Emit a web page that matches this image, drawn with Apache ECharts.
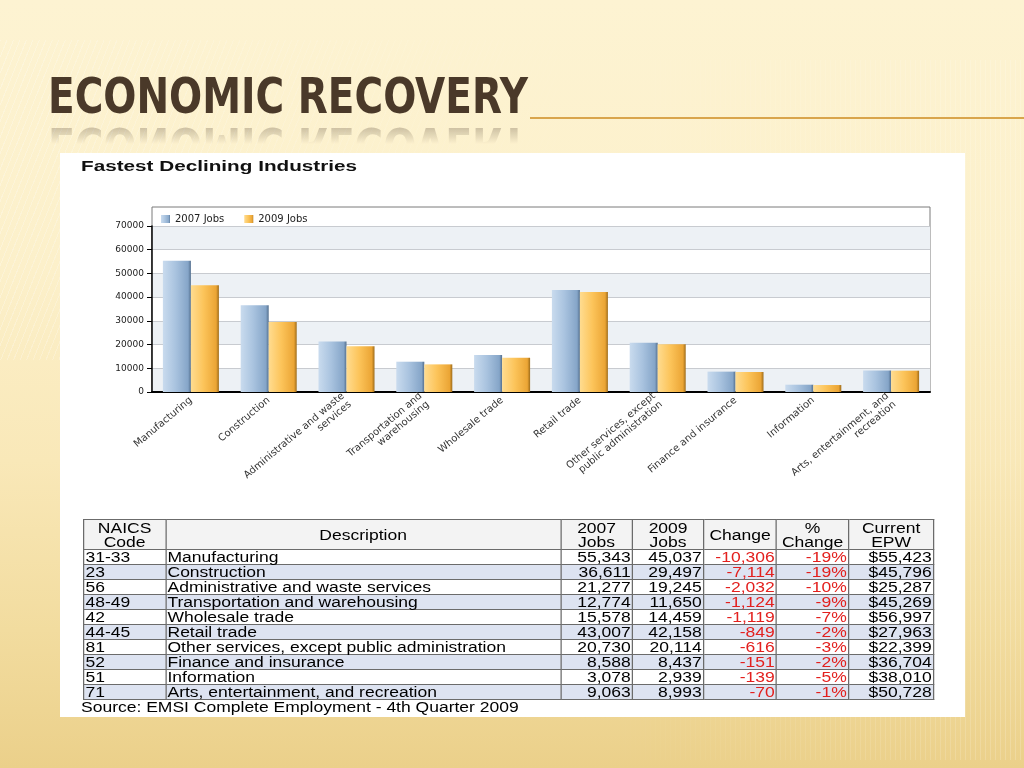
<!DOCTYPE html>
<html>
<head>
<meta charset="utf-8">
<script src="https://cdn.jsdelivr.net/npm/echarts@6/dist/echarts.min.js"></script>
<style>
  html, body { margin: 0; padding: 0; }
  body {
    width: 1024px; height: 768px; overflow: hidden; position: relative;
    background: linear-gradient(to bottom, #fdf3d2 0%, #fcf0ca 35%, #f9e8b8 60%, #f2dc9f 82%, #ebd08a 100%);
    font-family: "Liberation Sans", Arial, sans-serif;
  }
  #stripes {
    position: absolute; left: 0; top: 40px; width: 1024px; height: 320px;
    background: repeating-linear-gradient(112deg, rgba(255,255,255,0.25) 0px, rgba(255,255,255,0.25) 1px, transparent 1px, transparent 6px);
    -webkit-mask-image: linear-gradient(to right, rgba(0,0,0,1) 0%, rgba(0,0,0,0.3) 40%, rgba(0,0,0,0) 60%);
  }
  #stripesR {
    position: absolute; left: 600px; top: 60px; width: 424px; height: 700px;
    background: repeating-linear-gradient(90deg, rgba(255,255,255,0.18) 0px, rgba(255,255,255,0.18) 1px, transparent 1px, transparent 5px);
    -webkit-mask-image: linear-gradient(to right, rgba(0,0,0,0) 0%, rgba(0,0,0,1) 100%);
  }
  #slideTitle {
    position: absolute; left: 48px; top: 69px;
    font-family: "Liberation Sans Narrow", "DejaVu Sans Condensed", "Liberation Sans", sans-serif;
    font-weight: bold; font-size: 49px; line-height: 56px; color: #4a3929;
    transform-origin: left top; transform: scaleX(0.885);
    white-space: nowrap;
    -webkit-box-reflect: below -9px linear-gradient(to bottom, transparent 50%, rgba(255,255,255,0.45) 100%);
  }
  #titleRule {
    position: absolute; left: 530px; top: 117px; width: 494px; height: 2px; background: #d9a54c;
  }
  #panel {
    position: absolute; left: 60px; top: 153px; width: 905px; height: 564px; background: #ffffff;
  }
  #chartTitle {
    position: absolute; left: 81px; top: 157px;
    font-family: "Liberation Sans", Arial, sans-serif; font-weight: bold; font-size: 15px; color: #111;
    transform-origin: left top; transform: scaleX(1.38); white-space: nowrap;
  }
  #chart { position: absolute; left: 60px; top: 153px; width: 905px; height: 360px; }
  #tableWrap {
    position: absolute; left: 83px; top: 519px;
    transform-origin: left top; transform: scaleX(1.25);
  }
  table { border-collapse: collapse; font-family: "Liberation Sans", Arial, sans-serif; font-size: 14px; color: #000; }
  td, th { padding: 0 1px; border: 1px solid #6b6b6b; line-height: 14px; height: 14px; white-space: nowrap; }
  th { font-weight: normal; background: #f3f3f3; height: 29px; text-align: center; }
  td.num { text-align: right; }
  td.red { text-align: right; color: #e3201e; }
  tr.alt td { background: #dde3f1; }
  #source {
    position: absolute; left: 81px; top: 699px; font-family: "Liberation Sans", Arial, sans-serif; font-size: 14px; color: #000;
    transform-origin: left top; transform: scaleX(1.25); white-space: nowrap;
  }
</style>
</head>
<body>
<div id="stripes"></div>
<div id="stripesR"></div>
<div id="slideTitle">ECONOMIC RECOVERY</div>
<div id="titleRule"></div>
<div id="panel"></div>
<div id="chartTitle">Fastest Declining Industries</div>
<div id="chart"></div>
<div id="tableWrap"></div>
<div id="source">Source: EMSI Complete Employment - 4th Quarter 2009</div>
<script>
// ---- data ----
const categoryLabels = [
  'Manufacturing', 'Construction', 'Administrative and waste\nservices',
  'Transportation and\nwarehousing', 'Wholesale trade', 'Retail trade',
  'Other services, except\npublic administration', 'Finance and insurance',
  'Information', 'Arts, entertainment, and\nrecreation'
];
const naicsCodes = ['31-33', '23', '56', '48-49', '42', '44-45', '81', '52', '51', '71'];
const descriptions = [
  'Manufacturing', 'Construction', 'Administrative and waste services',
  'Transportation and warehousing', 'Wholesale trade', 'Retail trade',
  'Other services, except public administration', 'Finance and insurance',
  'Information', 'Arts, entertainment, and recreation'
];
const jobs2007 = [55343, 36611, 21277, 12774, 15578, 43007, 20730, 8588, 3078, 9063];
const jobs2009 = [45037, 29497, 19245, 11650, 14459, 42158, 20114, 8437, 2939, 8993];
const jobChange = [-10306, -7114, -2032, -1124, -1119, -849, -616, -151, -139, -70];
const pctChange = ['-19%', '-19%', '-10%', '-9%', '-7%', '-2%', '-3%', '-2%', '-5%', '-1%'];
const currentEPW = ['$55,423', '$45,796', '$25,287', '$45,269', '$56,997', '$27,963', '$22,399', '$36,704', '$38,010', '$50,728'];
const yTicks = { min: 0, max: 70000, interval: 10000 };
const seriesNames = ['2007 Jobs', '2009 Jobs'];
const tableHeaders = ['NAICS<br>Code', 'Description', '2007<br>Jobs', '2009<br>Jobs', 'Change', '%<br>Change', 'Current<br>EPW'];
const colWidths = [65.6, 316, 57.6, 56.8, 58.4, 57.6, 68];

// ---- chart ----
const chart = echarts.init(document.getElementById('chart'), null, { renderer: 'canvas' });
const blueGrad = new echarts.graphic.LinearGradient(0, 0, 1, 0, [
  { offset: 0, color: '#c9dbee' }, { offset: 0.45, color: '#a9c3df' },
  { offset: 0.9, color: '#85a5c8' }, { offset: 1, color: '#536f8e' }
]);
const orangeGrad = new echarts.graphic.LinearGradient(0, 0, 1, 0, [
  { offset: 0, color: '#ffdc90' }, { offset: 0.45, color: '#fcc45a' },
  { offset: 0.9, color: '#eba535' }, { offset: 1, color: '#9e6c1a' }
]);
const fnt = '"Liberation Sans", Arial, sans-serif';
chart.setOption({
  animation: false,
  backgroundColor: 'transparent',
  textStyle: { fontFamily: fnt },
  legend: {
    left: 96, top: 56, itemWidth: 9, itemHeight: 8, itemGap: 20, icon: 'rect',
    textStyle: { fontSize: 10, color: '#222', fontFamily: '"DejaVu Sans", sans-serif' },
    data: seriesNames
  },
  grid: { left: 92, right: 35, top: 73, bottom: 121, containLabel: false },
  graphic: [{
    type: 'rect', shape: { x: 92, y: 54, width: 778, height: 185 },
    style: { fill: 'none', stroke: '#7a7a7a', lineWidth: 1 }, z: 0, silent: true
  }],
  xAxis: {
    type: 'category', data: categoryLabels,
    axisLine: { lineStyle: { color: '#000', width: 2 } },
    axisTick: { alignWithLabel: true, length: 5, lineStyle: { color: '#000' } },
    axisLabel: { interval: 0, rotate: 40, fontSize: 10, color: '#333', margin: 7, lineHeight: 11, fontFamily: '"DejaVu Sans", sans-serif' },
    splitLine: { show: false }
  },
  yAxis: {
    type: 'value', min: yTicks.min, max: yTicks.max, interval: yTicks.interval,
    axisLine: { show: true, lineStyle: { color: '#000', width: 1.5 } },
    axisTick: { show: true, length: 5, lineStyle: { color: '#000' } },
    axisLabel: { fontSize: 9, color: '#222', margin: 8, fontFamily: '"DejaVu Sans", sans-serif',
      formatter: v => String(v) },
    splitLine: { lineStyle: { color: '#c8cbd0', width: 1.2 } },
    splitArea: { show: true, areaStyle: { color: ['#edf1f5', '#ffffff'] } }
  },
  series: [
    { name: seriesNames[0], type: 'bar', data: jobs2007, barWidth: 28, barGap: '0%',
      itemStyle: { color: blueGrad } },
    { name: seriesNames[1], type: 'bar', data: jobs2009, barWidth: 28, barGap: '0%',
      itemStyle: { color: orangeGrad } }
  ]
});

// ---- table ----
const fmt = n => n.toLocaleString('en-US');
let html = '<table><colgroup>' + colWidths.map(w => '<col style="width:' + w + 'px">').join('') + '</colgroup>';
html += '<tr>' + tableHeaders.map(h => '<th>' + h + '</th>').join('') + '</tr>';
for (let i = 0; i < naicsCodes.length; i++) {
  html += '<tr' + (i % 2 === 1 ? ' class="alt"' : '') + '>' +
    '<td>' + naicsCodes[i] + '</td>' +
    '<td>' + descriptions[i] + '</td>' +
    '<td class="num">' + fmt(jobs2007[i]) + '</td>' +
    '<td class="num">' + fmt(jobs2009[i]) + '</td>' +
    '<td class="red">' + fmt(jobChange[i]) + '</td>' +
    '<td class="red">' + pctChange[i] + '</td>' +
    '<td class="num">' + currentEPW[i] + '</td></tr>';
}
html += '</table>';
document.getElementById('tableWrap').innerHTML = html;
</script>
</body>
</html>
